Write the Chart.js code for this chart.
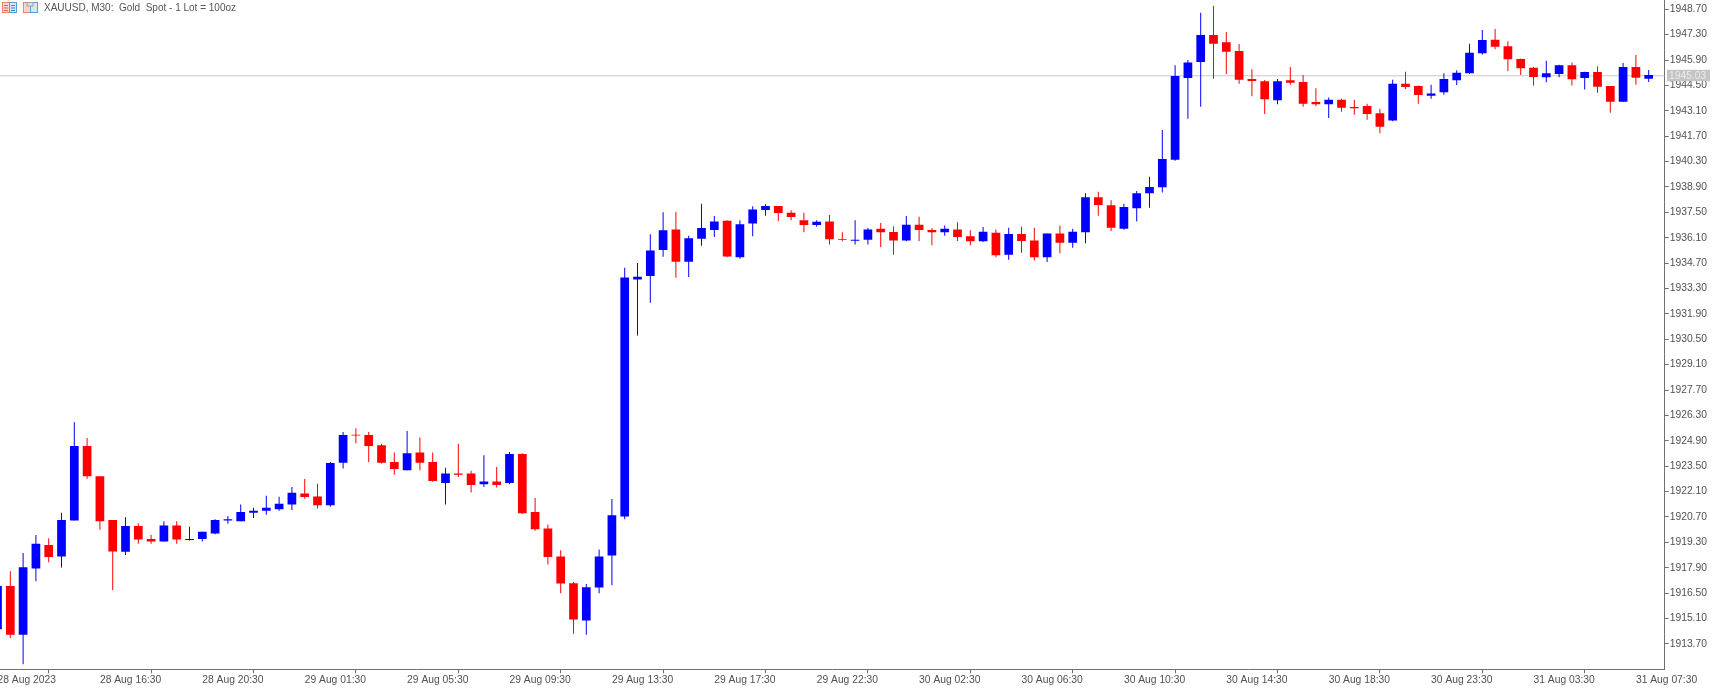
<!DOCTYPE html>
<html>
<head>
<meta charset="utf-8">
<title>XAUUSD M30</title>
<script src="https://cdn.jsdelivr.net/npm/chart.js@4"></script>
<style>
  html, body { margin: 0; padding: 0; background: #fff; overflow: hidden; }
  #wrap { position: relative; width: 1718px; height: 688px; }
  #header { position: absolute; left: 44px; top: 2px; font: 10px "Liberation Sans", sans-serif; color: #555; white-space: pre; }
  #icons { position: absolute; left: 2px; top: 2px; }
</style>
</head>
<body>
<div id="wrap">
  <canvas id="chart" width="1718" height="688"></canvas>
  <svg id="icons" width="38" height="12" viewBox="0 0 38 12">
    <rect x="0.5" y="0.5" width="7" height="10" fill="#fbd5d0" stroke="#f08070"/>
    <rect x="7.5" y="0.5" width="7" height="10" fill="#d5e6f7" stroke="#5b9bd5"/>
    <path d="M2 3.5h4M2 6h4M2 8.5h4" stroke="#e8604c"/>
    <path d="M9 3.5h4M9 6h4M9 8.5h4" stroke="#3d85c6"/>
    <rect x="21.5" y="0.5" width="7" height="10" fill="#fbd5d0" stroke="#f08070"/>
    <rect x="28.5" y="0.5" width="7" height="10" fill="#d5e6f7" stroke="#5b9bd5"/>
    <rect x="25" y="0.5" width="6" height="3.5" fill="#e0e0e0" stroke="#a0a0a0"/>
  </svg>
  <div id="header">XAUUSD, M30:  Gold  Spot - 1 Lot = 100oz</div>
</div>
<script>
const opens = [
  1914.51,1916.89,1914.20,1917.86,1919.16,1918.52,1920.51,1924.61,1922.94,1920.54,
  1918.78,1920.20,1919.48,1919.35,1920.23,1919.43,1919.48,1919.79,1920.51,1920.46,
  1920.93,1921.04,1921.12,1921.39,1922.00,1921.83,1921.35,1923.69,1925.23,1925.22,
  1924.65,1923.73,1923.28,1924.26,1923.73,1922.58,1923.10,1923.10,1922.50,1922.66,
  1922.58,1924.17,1920.98,1920.07,1918.52,1917.05,1914.99,1916.81,1918.58,1920.73,
  1933.80,1933.99,1935.42,1936.56,1934.77,1936.04,1936.52,1937.04,1935.03,1936.89,
  1937.63,1937.85,1937.48,1937.06,1936.80,1937.00,1936.03,1935.93,1935.99,1936.59,
  1936.41,1935.95,1936.82,1936.52,1936.40,1936.56,1936.18,1935.90,1936.37,1935.16,
  1936.30,1935.95,1935.03,1936.34,1935.82,1936.40,1938.33,1937.89,1936.59,1937.72,
  1938.55,1938.88,1940.40,1944.91,1945.79,1947.28,1946.88,1946.40,1944.85,1944.73,
  1943.68,1944.78,1944.69,1943.58,1943.46,1943.71,1943.31,1943.36,1942.96,1942.57,
  1944.59,1944.47,1943.93,1944.12,1944.78,1945.17,1946.27,1947.02,1946.66,1945.96,
  1945.48,1944.95,1945.13,1945.61,1944.91,1945.24,1944.47,1943.60,1945.51,1944.87
];
const highs = [
  1917.22,1917.71,1918.72,1919.70,1919.53,1920.93,1925.93,1925.05,1922.94,1920.54,
  1920.69,1920.36,1919.70,1920.46,1920.46,1920.16,1919.88,1920.58,1920.76,1921.39,
  1921.21,1921.87,1921.81,1922.35,1922.79,1922.53,1923.73,1925.38,1925.60,1925.38,
  1924.74,1924.26,1925.44,1925.09,1924.26,1923.41,1924.74,1923.25,1924.11,1923.45,
  1924.29,1924.21,1921.74,1920.29,1918.87,1917.11,1917.01,1918.91,1921.69,1934.44,
  1934.70,1936.29,1937.50,1937.53,1936.21,1937.97,1937.30,1937.06,1937.07,1937.83,
  1937.94,1937.85,1937.61,1937.48,1937.06,1937.35,1936.40,1937.07,1936.63,1936.91,
  1936.73,1937.30,1937.26,1936.63,1936.78,1936.96,1936.51,1936.69,1936.56,1936.65,
  1936.71,1936.65,1936.34,1936.78,1936.59,1938.55,1938.64,1938.16,1937.97,1938.67,
  1939.46,1942.04,1945.61,1945.90,1948.51,1948.88,1947.44,1946.78,1945.39,1944.80,
  1944.85,1945.51,1945.07,1944.34,1943.84,1943.77,1943.71,1943.49,1943.20,1944.81,
  1945.25,1944.49,1944.54,1945.17,1945.33,1946.80,1947.56,1947.61,1946.93,1945.99,
  1945.51,1945.86,1945.64,1945.77,1945.25,1945.55,1944.47,1945.73,1946.18,1945.35
];
const lows = [
  1914.40,1914.03,1912.58,1917.16,1918.21,1917.92,1920.51,1922.81,1919.99,1916.67,
  1918.60,1919.22,1919.22,1919.35,1919.22,1919.40,1919.35,1919.75,1920.32,1920.46,
  1920.65,1920.82,1921.04,1921.08,1921.70,1921.17,1921.26,1923.38,1924.76,1923.73,
  1923.65,1923.03,1923.28,1923.28,1922.64,1921.39,1922.90,1922.05,1922.36,1922.33,
  1922.50,1920.86,1919.94,1918.08,1916.50,1914.26,1914.20,1916.50,1916.94,1920.57,
  1930.71,1932.51,1935.05,1933.89,1933.93,1935.66,1936.14,1935.03,1934.94,1936.18,
  1937.31,1937.02,1937.06,1936.40,1936.71,1935.73,1935.90,1935.73,1935.73,1935.59,
  1935.16,1935.90,1935.92,1935.68,1936.21,1935.92,1935.68,1935.86,1935.03,1934.88,
  1935.27,1934.85,1934.76,1935.25,1935.55,1935.79,1937.31,1936.47,1936.54,1937.00,
  1937.75,1938.60,1940.35,1942.66,1943.32,1944.87,1945.13,1944.59,1943.90,1942.92,
  1943.46,1944.54,1943.32,1943.35,1942.70,1943.05,1942.88,1942.61,1941.86,1942.52,
  1944.30,1943.49,1943.77,1943.99,1944.52,1945.13,1946.21,1946.49,1945.29,1945.07,
  1944.50,1944.67,1944.95,1944.50,1944.28,1944.10,1942.99,1943.60,1944.54,1944.69
];
const closes = [
  1916.89,1914.20,1917.93,1919.22,1918.49,1920.54,1924.61,1922.94,1920.47,1918.80,
  1920.20,1919.46,1919.35,1920.23,1919.46,1919.48,1919.88,1920.54,1920.57,1920.98,
  1921.04,1921.21,1921.43,1922.03,1921.80,1921.35,1923.67,1925.22,1925.19,1924.61,
  1923.69,1923.34,1924.21,1923.69,1922.68,1923.10,1923.03,1922.46,1922.66,1922.46,
  1924.17,1920.90,1920.03,1918.49,1917.03,1915.05,1916.83,1918.52,1920.80,1933.91,
  1933.95,1935.40,1936.51,1934.77,1936.07,1936.63,1937.00,1935.07,1936.85,1937.66,
  1937.85,1937.46,1937.24,1936.80,1936.98,1936.01,1935.99,1935.99,1936.56,1936.40,
  1935.95,1936.82,1936.52,1936.40,1936.59,1936.14,1935.90,1936.43,1935.13,1936.30,
  1935.92,1935.03,1936.34,1935.82,1936.43,1938.33,1937.90,1936.65,1937.79,1938.55,
  1938.90,1940.44,1945.02,1945.77,1947.28,1946.80,1946.36,1944.81,1944.74,1943.73,
  1944.73,1944.65,1943.49,1943.46,1943.71,1943.27,1943.24,1942.92,1942.22,1944.59,
  1944.41,1943.97,1944.06,1944.85,1945.20,1946.30,1947.00,1946.63,1945.94,1945.44,
  1944.96,1945.17,1945.61,1944.84,1945.24,1944.43,1943.60,1945.51,1944.92,1945.07
];
const priceTicks = [
  1948.70,1947.30,1945.90,1944.50,1943.10,1941.70,1940.30,1938.90,1937.50,1936.10,
  1934.70,1933.30,1931.90,1930.50,1929.10,1927.70,1926.30,1924.90,1923.50,1922.10,
  1920.70,1919.30,1917.90,1916.50,1915.10,1913.70
];
const timeLabels = [
  '28 Aug 2023','28 Aug 16:30','28 Aug 20:30','29 Aug 01:30','29 Aug 05:30','29 Aug 09:30',
  '29 Aug 13:30','29 Aug 17:30','29 Aug 22:30','30 Aug 02:30','30 Aug 06:30','30 Aug 10:30',
  '30 Aug 14:30','30 Aug 18:30','30 Aug 23:30','31 Aug 03:30','31 Aug 07:30'
];
const lastPrice = 1945.03;
const barsPerLabel = 8;

const UP = '#0000ff';
const DOWN = '#ff0000';
const TEXT = '#505050';
const AXIS = '#707070';
const FONT = { family: '"Liberation Sans", sans-serif', size: 10.3 };

const colors = opens.map((o, i) => closes[i] >= o ? UP : DOWN);
const xMin = 0.195, xMax = 130.25;

// small label on the price axis for the current price
const lastPriceTag = {
  id: 'lastPriceTag',
  afterDraw(chart) {
    const y = chart.scales.y.getPixelForValue(lastPrice);
    const c = chart.ctx;
    c.save();
    c.fillStyle = '#c4c4c4';
    c.fillRect(1667, y - 6, 43, 11.5);
    c.fillStyle = '#ececec';
    c.font = FONT.size + 'px ' + FONT.family;
    c.textBaseline = 'middle';
    c.fillText(lastPrice.toFixed(2), 1669, y);
    c.restore();
  }
};

new Chart('chart', {
  type: 'bar',
  data: {
    datasets: [
      {
        label: 'body',
        order: 1,
        data: opens.map((o, i) => ({ x: i, y: [o, closes[i]] })),
        backgroundColor: colors,
        barThickness: 8.7,
        inflateAmount: 0,
        borderWidth: 0
      },
      {
        label: 'wick',
        order: 2,
        data: lows.map((l, i) => ({ x: i, y: [l, highs[i]] })),
        backgroundColor: colors,
        barThickness: 1,
        inflateAmount: 0,
        borderWidth: 0
      },
      {
        type: 'line',
        label: 'last',
        order: 3,
        data: [{ x: xMin, y: lastPrice }, { x: xMax, y: lastPrice }],
        borderColor: '#c8c8c8',
        borderWidth: 1,
        pointRadius: 0
      }
    ]
  },
  options: {
    responsive: false,
    animation: false,
    events: [],
    grouped: false,
    layout: { padding: 0 },
    plugins: { legend: { display: false }, tooltip: { enabled: false } },
    scales: {
      x: {
        type: 'linear',
        offset: false,
        min: xMin,
        max: xMax,
        afterBuildTicks: s => { s.ticks = timeLabels.map((t, i) => ({ value: i * barsPerLabel })); },
        afterFit: s => { s.height = 18.7; s.paddingLeft = 0; s.paddingRight = 0; },
        grid: { drawOnChartArea: false, tickLength: 4, tickColor: AXIS },
        border: { color: AXIS, width: 1 },
        ticks: {
          color: TEXT,
          font: FONT,
          align: 'start',
          autoSkip: false,
          maxRotation: 0,
          padding: 1,
          callback: v => timeLabels[v / barsPerLabel]
        }
      },
      y: {
        position: 'right',
        min: 1912.3,
        max: 1949.21,
        afterBuildTicks: s => { s.ticks = priceTicks.map(v => ({ value: v })); },
        afterFit: s => { s.width = 53.3; s.paddingTop = 0; s.paddingBottom = 0; },
        grid: { drawOnChartArea: false, tickLength: 4, tickColor: AXIS },
        border: { color: AXIS, width: 1 },
        ticks: {
          color: TEXT,
          font: FONT,
          autoSkip: false,
          padding: 1,
          callback: v => v.toFixed(2)
        }
      }
    }
  },
  plugins: [lastPriceTag]
});
</script>
</body>
</html>
